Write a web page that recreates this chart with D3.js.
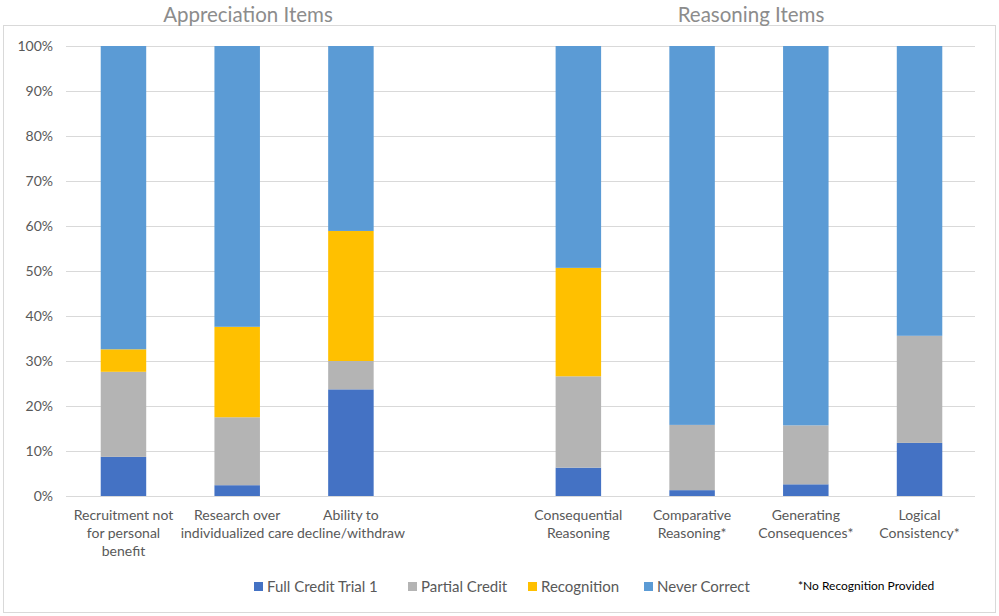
<!DOCTYPE html>
<html>
<head>
<meta charset="utf-8">
<script src="https://cdn.jsdelivr.net/npm/d3@7"></script>
<style>
  body { margin: 0; background: #fff; }
  text { font-family: Lato, "Open Sans", sans-serif; }
</style>
</head>
<body>
<script>
const width = 999;
const height = 616;

// data (percent of participants)
const appreciationItems = ['Recruitment not for personal benefit', 'Research over individualized care', 'Ability to decline/withdraw'];
const reasoningItems = ['Consequential Reasoning', 'Comparative Reasoning*', 'Generating Consequences*', 'Logical Consistency*'];
const labelLines = [
  ['Recruitment not', 'for personal', 'benefit'],
  ['Research over', 'individualized care'],
  ['Ability to', 'decline/withdraw'],
  ['Consequential', 'Reasoning'],
  ['Comparative', 'Reasoning*'],
  ['Generating', 'Consequences*'],
  ['Logical', 'Consistency*']
];
const seriesNames = ['Full Credit Trial 1', 'Partial Credit', 'Recognition', 'Never Correct'];
const fullCredit = [8.7, 2.4, 23.7, 6.3, 1.3, 2.6, 11.8];
const partialCredit = [18.9, 15.1, 6.3, 20.3, 14.5, 13.1, 23.8];
const recognition = [5.0, 20.1, 28.9, 24.1, 0, 0, 0];
const neverCorrect = [67.4, 62.4, 41.1, 49.3, 84.2, 84.3, 64.4];
const yTicks = [0, 10, 20, 30, 40, 50, 60, 70, 80, 90, 100];
const colors = ['#4472C4', '#B4B4B4', '#FFC000', '#5B9BD5'];

const categories = [...appreciationItems, ...reasoningItems];
const slots = [...appreciationItems, 'gap', ...reasoningItems];

function main() {
  const svg = d3.select('body').append('svg').attr('width', width).attr('height', height);

  // chart frame
  svg.append('rect')
    .attr('x', 3.5).attr('y', 25.5)
    .attr('width', 992).attr('height', 587)
    .attr('fill', 'none').attr('stroke', '#d9d9d9');

  const x = d3.scaleBand().domain(slots).range([66.6, 976.4]);
  const y = d3.scaleLinear().domain([0, 100]).range([496, 46]);
  const barWidth = x.bandwidth() * 0.4;

  // gridlines
  svg.append('g')
    .selectAll('line')
    .data(yTicks)
    .join('line')
    .attr('x1', 66).attr('x2', 975)
    .attr('y1', d => Math.round(y(d)) + 0.5)
    .attr('y2', d => Math.round(y(d)) + 0.5)
    .attr('stroke', '#d9d9d9').attr('stroke-width', 1.2);

  // y tick labels
  svg.append('g')
    .selectAll('text')
    .data(yTicks)
    .join('text')
    .attr('x', 53)
    .attr('y', d => y(d) + 5)
    .attr('text-anchor', 'end')
    .attr('font-size', 14)
    .attr('fill', '#595959')
    .text(d => d + '%');

  // stacked bars
  const table = categories.map((c, i) => ({
    category: c,
    [seriesNames[0]]: fullCredit[i],
    [seriesNames[1]]: partialCredit[i],
    [seriesNames[2]]: recognition[i],
    [seriesNames[3]]: neverCorrect[i]
  }));
  const stacked = d3.stack().keys(seriesNames)(table);

  svg.append('g')
    .selectAll('g')
    .data(stacked)
    .join('g')
    .attr('fill', (d, i) => colors[i])
    .selectAll('rect')
    .data(d => d.filter(p => p[1] - p[0] > 0))
    .join('rect')
    .attr('x', d => x(d.data.category) + (x.bandwidth() - barWidth) / 2)
    .attr('width', barWidth)
    .attr('y', d => y(d[1]))
    .attr('height', d => y(d[0]) - y(d[1]));

  // category labels
  const labels = svg.append('g')
    .selectAll('text')
    .data(categories)
    .join('text')
    .attr('text-anchor', 'middle')
    .attr('font-size', 14)
    .attr('fill', '#595959')
    .attr('transform', d => `translate(${x(d) + x.bandwidth() / 2},520)`);
  labels.selectAll('tspan')
    .data((d, i) => labelLines[i])
    .join('tspan')
    .attr('x', 0)
    .attr('y', (d, i) => i * 18)
    .text(d => d);

  // group titles
  svg.append('text')
    .attr('x', 248).attr('y', 22)
    .attr('text-anchor', 'middle')
    .attr('font-size', 20.5)
    .attr('fill', '#8c8c8c')
    .text('Appreciation Items');
  svg.append('text')
    .attr('x', 751).attr('y', 22)
    .attr('text-anchor', 'middle')
    .attr('font-size', 20.5)
    .attr('fill', '#8c8c8c')
    .text('Reasoning Items');

  // legend
  const legendX = [254, 408, 528, 644];
  const legend = svg.append('g')
    .selectAll('g')
    .data(seriesNames)
    .join('g')
    .attr('transform', (d, i) => `translate(${legendX[i]},582)`);
  legend.append('rect')
    .attr('width', 9).attr('height', 9)
    .attr('fill', (d, i) => colors[i]);
  legend.append('text')
    .attr('x', 13).attr('y', 10)
    .attr('font-size', 15)
    .attr('fill', '#595959')
    .text(d => d);

  svg.append('text')
    .attr('x', 798).attr('y', 590)
    .attr('font-size', 12)
    .attr('fill', '#000')
    .text('*No Recognition Provided');
}

main();
</script>
</body>
</html>
